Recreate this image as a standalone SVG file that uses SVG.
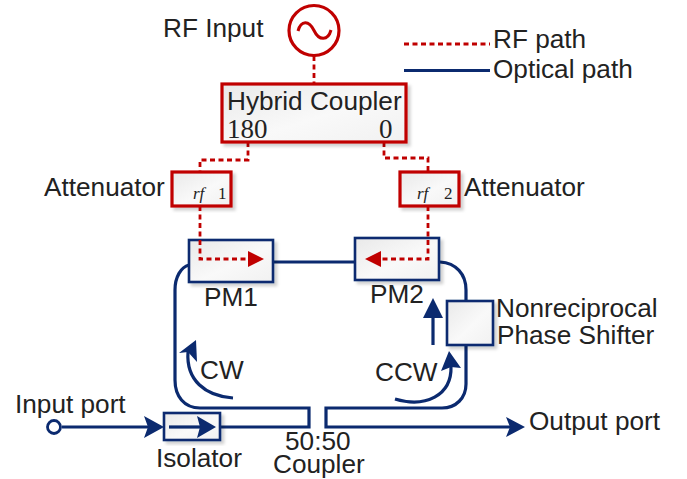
<svg xmlns="http://www.w3.org/2000/svg" width="687" height="479" viewBox="0 0 687 479">
<style>
text{font-family:"Liberation Sans",Arial,sans-serif;font-size:26.200px;fill:#222}
.s{font-family:"Liberation Serif","Times New Roman",serif;font-size:27px}
.rf{font-family:"Liberation Serif","Times New Roman",serif;font-size:17px}
.r{fill:none;stroke:#c00000;stroke-width:2.800;stroke-dasharray:5 3.5}
.b{fill:none;stroke:#0b2a6f;stroke-width:3.2}
.rb{fill:url(#g);stroke:#c00000;stroke-width:3.2;filter:url(#sh)}
.bb{fill:url(#g);stroke:#0b2a6f;stroke-width:2.6;filter:url(#sh)}
.ah{fill:#0b2a6f}
.ar{fill:#c00000}
</style>
<defs>
<linearGradient id="g" x1="0" y1="0" x2="1" y2="1"><stop offset="0" stop-color="#e9e9e9"/><stop offset="0.55" stop-color="#f9f9f9"/><stop offset="1" stop-color="#f1f1f1"/></linearGradient>
<filter id="sh" x="-10%" y="-10%" width="125%" height="130%"><feDropShadow dx="3" dy="3" stdDeviation="1.5" flood-color="#000" flood-opacity="0.18"/></filter>
</defs>
<g id="connectors">
<path class="r" d="M314 56V84"/>
<path class="r" d="M248 142V160H200V172"/>
<path class="r" d="M384 142V158H428V172"/>
<path class="b" d="M273 262H355"/>
<path class="b" d="M189 265C181 267 175 277 175 290V380C175 396 184 408 200 408H309V427H220"/>
<path class="b" d="M440 262C456 263 466 274 466 290V301"/>
<path class="b" d="M466 345V384C466 398 456 408 442 408H326V427H510"/>
<path class="ah" d="M525 427L506 417L510 427L506 437Z"/>
<path class="b" d="M62 427H150"/>
<path class="ah" d="M164 427L144 416L148 427L144 438Z"/>
</g>
<g id="rf-input"><circle cx="314" cy="30.500" r="25" fill="#fff" stroke="#c00000" stroke-width="3.200"/><path d="M298 31C301 20 309 20 314 30.500C319 41 328 41 331 30" fill="none" stroke="#c00000" stroke-width="3"/></g>
<g id="hybrid-coupler"><rect class="rb" x="222" y="84" width="184" height="58"/><text x="227" y="110">Hybrid Coupler</text><text class="s" x="227" y="138">180</text><text class="s" x="379" y="138">0</text></g>
<g id="attenuator-1"><rect class="rb" x="172" y="172" width="59" height="34"/><text class="rf" x="193" y="199" font-style="italic">rf</text><text class="rf" x="218" y="199">1</text></g>
<g id="attenuator-2"><rect class="rb" x="400" y="172" width="59" height="34"/><text class="rf" x="417" y="199" font-style="italic">rf</text><text class="rf" x="444" y="199">2</text></g>
<g id="pm1"><rect class="bb" x="189" y="240" width="84" height="42"/><text x="204" y="306">PM1</text></g>
<g id="pm2"><rect class="bb" x="355" y="238" width="84" height="42"/><text x="370" y="303">PM2</text></g>
<g id="phase-shifter"><rect class="bb" x="447" y="301" width="46" height="44"/><text x="496" y="317">Nonreciprocal</text><text x="497" y="344">Phase Shifter</text></g>
<g id="isolator"><rect class="bb" x="164" y="413" width="56" height="27"/><path class="b" d="M169 427H200"/><path class="ah" d="M216 427L197 416L200 427L197 438Z"/><text x="156" y="467">Isolator</text></g>
<g id="rf-paths">
<path class="r" d="M200 206V259H250"/><path class="ar" d="M264 259L248 251V267Z"/>
<path class="r" d="M428 206V259H380"/><path class="ar" d="M365 259L381 251V267Z"/>
</g>
<g id="direction-arrows">
<path class="b" d="M433 345V315"/><path class="ah" d="M433 298L423 318H443Z"/>
<path class="b" d="M233 398C205 396 186 380 188 352"/><path class="ah" d="M196 340L179 353L188 352L197 362Z"/>
<path class="b" d="M395 399C425 408 452 396 451 366"/><path class="ah" d="M449 351L441 371L451 367L461 368Z"/>
</g>
<g id="input-port"><circle cx="54" cy="427" r="6.500" fill="#fff" stroke="#0b2a6f" stroke-width="2.800"/></g>
<g id="legend">
<path class="r" d="M404 44H490"/><path class="b" d="M404 70.500H490"/>
<text x="493" y="48">RF path</text><text x="493" y="78">Optical path</text>
</g>
<g id="labels">
<text x="163" y="37">RF Input</text>
<text x="44" y="196">Attenuator</text>
<text x="464" y="196">Attenuator</text>
<text x="200" y="379">CW</text>
<text x="375" y="381">CCW</text>
<text x="15" y="413">Input port</text>
<text x="529" y="430">Output port</text>
<text x="285" y="450">50:50</text>
<text x="273" y="473">Coupler</text>
</g>
</svg>
